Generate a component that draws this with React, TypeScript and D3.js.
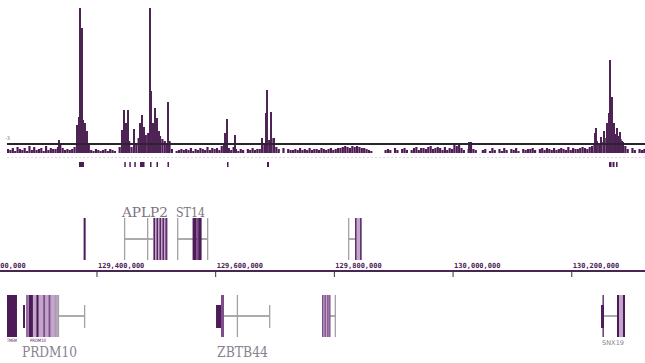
import React from "react";
import * as d3 from "d3";

// ---------- DATA ----------
const DOMAIN_KB = [129236.6, 130323.4];
const TICKS_KB = [129200, 129400, 129600, 129800, 130000, 130200];
const TICK_LABELS = ["129,200,000", "129,400,000", "129,600,000", "129,800,000", "130,000,000", "130,200,000"];

const SIGNAL_MAX = 145;
const NOISE_START_KB = 129248.4;
const NOISE_BIN_KB = 4;
// background signal per 4 kb bin, base-36 digits
const NOISE_BINS =
  "4352643527" + "3634527354" + "46a5343468" + "mqoia32432" + "342432069c" +
  "bc64afgkik" + "momkhec9c4" + "0234343524" + "3543635453" + "7ab5364243" +
  "0435344689" + "dfa6405043" + "3435343534" + "4354345345" + "5676576765" +
  "5432000003" + "4305304530" + "3563554674" + "5653635487" + "95304b4300" +
  "3402530425" + "3043520434" + "4530453543" + "5345436354" + "45654679ca" +
  "bdfikmjheb" + "740530434";

const PEAK_POS = [
  129336.0, 129366.3, 129369.7, 129371.4, 129373.1, 129374.8, 129376.5, 129379.8, 129383.2,
  129442.2, 129445.5, 129448.9, 129452.3, 129462.4, 129472.5, 129475.9, 129479.2, 129489.4,
  129491.0, 129494.4, 129497.8, 129501.1, 129504.5, 129519.7,
  129615.7, 129619.1, 129632.6, 129678.1, 129684.8, 129686.5, 129693.2, 129698.3,
  130026.9,
  130239.2, 130240.9, 130249.3, 130254.3, 130259.4, 130262.8, 130264.5, 130266.1, 130267.8,
  130271.2, 130276.2, 130281.3, 130284.7,
];
const PEAK_VAL = [
  13, 28, 36, 145, 86, 125, 33, 30, 22,
  23, 43, 30, 43, 24, 30, 38, 26, 145,
  62, 30, 45, 35, 22, 51,
  20, 34, 18, 15, 40, 63, 41, 15,
  11,
  20, 25, 16, 22, 30, 40, 93, 55, 56,
  30, 25, 21, 12,
];

const CALL_START = [129369.7, 129446.0, 129454.5, 129462.9, 129472.5, 129489.4, 129500.3, 129518.8, 129619.1, 129686.5, 130262.8, 130268.7, 130274.6];
const CALL_END = [129378.1, 129448.5, 129457.0, 129465.4, 129480.1, 129491.9, 129502.8, 129521.3, 129621.6, 129689.9, 130267.0, 130272.0, 130276.3];

// gene features: [tone, startKb, endKb, full(1)/short(0)]
const SOLO_EXONS = [["d", 129377.5, 129380.9, 1]];
const APLP2_INTRON = [129445.5, 129519.7];
const APLP2_EXONS = [
  ["g", 129445.5, 129446.5, 1], ["g", 129484.3, 129485.3, 1], ["l", 129494.4, 129519.7, 1],
  ["d", 129495.5, 129497.5, 1], ["d", 129500.5, 129502.5, 1], ["d", 129505.5, 129507.5, 1],
  ["d", 129510.5, 129512.5, 1], ["d", 129515.5, 129517.5, 1],
];
const ST14_INTRON = [129534.9, 129585.4];
const ST14_EXONS = [
  ["g", 129534.9, 129535.9, 1], ["d", 129561.1, 129567.8, 1], ["m", 129567.8, 129570.5, 1],
  ["d", 129570.5, 129576.3, 1], ["g", 129585.4, 129586.4, 1],
];
const G4_INTRON = [129823.0, 129844.5];
const G4_EXONS = [
  ["g", 129823.0, 129824.0, 1], ["l", 129834.8, 129846.0, 1],
  ["d", 129835.0, 129837.0, 1], ["d", 129843.5, 129845.7, 1],
];
const TMEM_EXONS = [["d", 129248.4, 129265.2, 1], ["m", 129254.0, 129256.0, 1]];
const PRDM10_INTRON = [129334.8, 129378.1];
const PRDM10_EXONS = [
  ["d", 129275.4, 129278.7, 0], ["l", 129280.4, 129334.8, 1],
  ["m", 129281.0, 129282.5, 1], ["d", 129285.0, 129292.0, 1], ["d", 129298.0, 129301.5, 1],
  ["m", 129309.5, 129312.5, 1], ["m", 129318.5, 129321.5, 1], ["g", 129328.5, 129331.5, 1],
  ["g", 129334.0, 129335.5, 1], ["g", 129378.1, 129379.4, 0],
];
const ZBTB44_INTRON = [129614.0, 129689.9];
const ZBTB44_EXONS = [
  ["d", 129600.6, 129609.0, 0], ["m", 129609.0, 129614.0, 1],
  ["g", 129635.5, 129637.0, 1], ["g", 129689.9, 129691.2, 0],
];
const G8_INTRON = [129792.7, 129801.1];
const G8_EXONS = [
  ["l", 129779.2, 129792.7, 1], ["m", 129779.2, 129780.7, 1], ["m", 129783.5, 129785.0, 1],
  ["m", 129788.0, 129789.5, 1], ["m", 129791.3, 129792.8, 1], ["g", 129800.5, 129801.8, 1],
];
const SNX19_INTRON = [130254.3, 130276.2];
const SNX19_EXONS = [
  ["d", 130251.8, 130253.6, 1], ["d", 130249.3, 130254.3, 0], ["d", 130276.2, 130279.6, 1],
  ["l", 130279.6, 130286.3, 1], ["d", 130286.3, 130289.7, 1],
];

const GENE_NAMES = ["", "APLP2", "ST14", "", "TMEM", "PRDM10", "ZBTB44", "", "SNX19"];
const GENE_STRANDS = ["+", "+", "+", "+", "-", "-", "-", "-", "-"];
const GENE_INTRONS = [null, APLP2_INTRON, ST14_INTRON, G4_INTRON, null, PRDM10_INTRON, ZBTB44_INTRON, G8_INTRON, SNX19_INTRON];
const GENE_EXONS = [SOLO_EXONS, APLP2_EXONS, ST14_EXONS, G4_EXONS, TMEM_EXONS, PRDM10_EXONS, ZBTB44_EXONS, G8_EXONS, SNX19_EXONS];

// ---------- RENDER ----------
const W = 645;
const H = 363;
const TONE = { d: "#4e1b59", m: "#7c4d88", l: "#c2a6cb", g: "#a4a0a6" };
const TONE_ORDER = { l: 0, m: 1, g: 2, d: 3 };
const SERIF = "'DejaVu Serif', 'Liberation Serif', serif";

const LABEL_STYLE: Record<string, { dx: number; y: number; size: number; len?: number; fill: string; font: string }> = {
  APLP2: { dx: -2, y: 217, size: 13, len: 46, fill: "#7a7380", font: SERIF },
  ST14: { dx: -1, y: 217, size: 13, len: 29, fill: "#7a7380", font: SERIF },
  PRDM10: { dx: -1, y: 357, size: 15, len: 55, fill: "#8a8290", font: SERIF },
  ZBTB44: { dx: 1, y: 357, size: 15, len: 51, fill: "#8a8290", font: SERIF },
  SNX19: { dx: 1, y: 345, size: 6.5, len: 22, fill: "#8a8290", font: "DejaVu Sans" },
  TMEM: { dx: 0, y: 342, size: 4.5, len: 10, fill: "#4e1b59", font: "DejaVu Sans" },
};

export default function App() {
  const x = d3.scaleLinear().domain(DOMAIN_KB).range([0, W]);
  const y = d3.scaleLinear().domain([0, SIGNAL_MAX]).range([153, 8]);

  const bins = NOISE_BINS.split("").map((c, i) => ({
    start: NOISE_START_KB + i * NOISE_BIN_KB,
    v: parseInt(c, 36),
  }));

  const rows = {
    "+": { top: 218, bottom: 260, sTop: 226, sBottom: 252 },
    "-": { top: 295, bottom: 337, sTop: 305, sBottom: 328 },
  };

  return (
    <svg width={W} height={H} style={{ position: "absolute", left: 0, top: 0, background: "#fff" }}>
      <rect width={W} height={H} fill="#fff" />
      {/* signal background */}
      <g>
        {bins.filter((b) => b.v > 0).map((b, i) => (
          <rect key={i} x={x(b.start)} y={y(b.v)} width={x(b.start + NOISE_BIN_KB) - x(b.start) - 0.2}
            height={y(0) - y(b.v)} fill="#4f1a56" />
        ))}
      </g>
      {/* spikes */}
      <g shapeRendering="crispEdges">
        {PEAK_POS.map((p, i) => (
          <rect key={i} x={Math.round(x(p)) - 1} y={y(PEAK_VAL[i])} width={2} height={y(0) - y(PEAK_VAL[i])}
            fill="#4d2454" />
        ))}
      </g>
      {/* threshold line */}
      <line x1={x(NOISE_START_KB)} x2={W} y1={144} y2={144} stroke="#2a2330" strokeWidth={2} />
      <text x={5} y={140} fontSize={5} fill="#777" fontFamily="DejaVu Sans">-3</text>
      <line x1={x(NOISE_START_KB)} x2={W} y1={157.5} y2={157.5} stroke="#e4d6e8" strokeWidth={1} strokeDasharray="2 2" />
      {/* peak calls */}
      {CALL_START.map((s, i) => (
        <rect key={i} x={x(s)} y={162} width={Math.max(1.5, x(CALL_END[i]) - x(s))} height={5} fill="#4e1b59" />
      ))}

      {/* genes */}
      {GENE_NAMES.map((name, gi) => {
        const r = rows[GENE_STRANDS[gi]];
        const mid = (r.top + r.bottom) / 2;
        const intron = GENE_INTRONS[gi];
        const exons = [...GENE_EXONS[gi]].sort((a: any, b: any) => TONE_ORDER[a[0]] - TONE_ORDER[b[0]]);
        const st = LABEL_STYLE[name];
        const anchor = d3.min(GENE_EXONS[gi], (e: any) => e[1]) as number;
        return (
          <g key={gi}>
            {intron && (
              <line x1={x(intron[0])} x2={x(intron[1])} y1={mid} y2={mid} stroke="#5a5560" strokeWidth={1} />
            )}
            {exons.map((e: any, k) => {
              const x0 = x(e[1]);
              const w = Math.max(1.3, x(e[2]) - x0);
              const t = e[3] ? r.top : r.sTop;
              const b = e[3] ? r.bottom : r.sBottom;
              return <rect key={k} x={x0} y={t} width={w} height={b - t} fill={TONE[e[0]]} />;
            })}
            {st && (
              <text x={x(anchor) + st.dx} y={st.y} fontSize={st.size} fill={st.fill} fontFamily={st.font}
                textLength={st.len} lengthAdjust="spacingAndGlyphs">{name}</text>
            )}
          </g>
        );
      })}
      <text x={30} y={342} fontSize={4.5} fill="#4e1b59" fontFamily="DejaVu Sans" textLength={16} lengthAdjust="spacingAndGlyphs">PRDM10</text>

      {/* axis */}
      <line x1={0} x2={W} y1={271} y2={271} stroke="#4a2455" strokeWidth={2} />
      {TICKS_KB.map((t, i) => (
        <g key={i}>
          <line x1={x(t)} x2={x(t)} y1={270} y2={277} stroke="#4a2455" strokeWidth={1} />
          <text x={x(t) + 1} y={268} fontSize={7} fontWeight="bold" fill="#4a2455" fontFamily="DejaVu Sans Mono">
            {TICK_LABELS[i]}
          </text>
        </g>
      ))}
    </svg>
  );
}
